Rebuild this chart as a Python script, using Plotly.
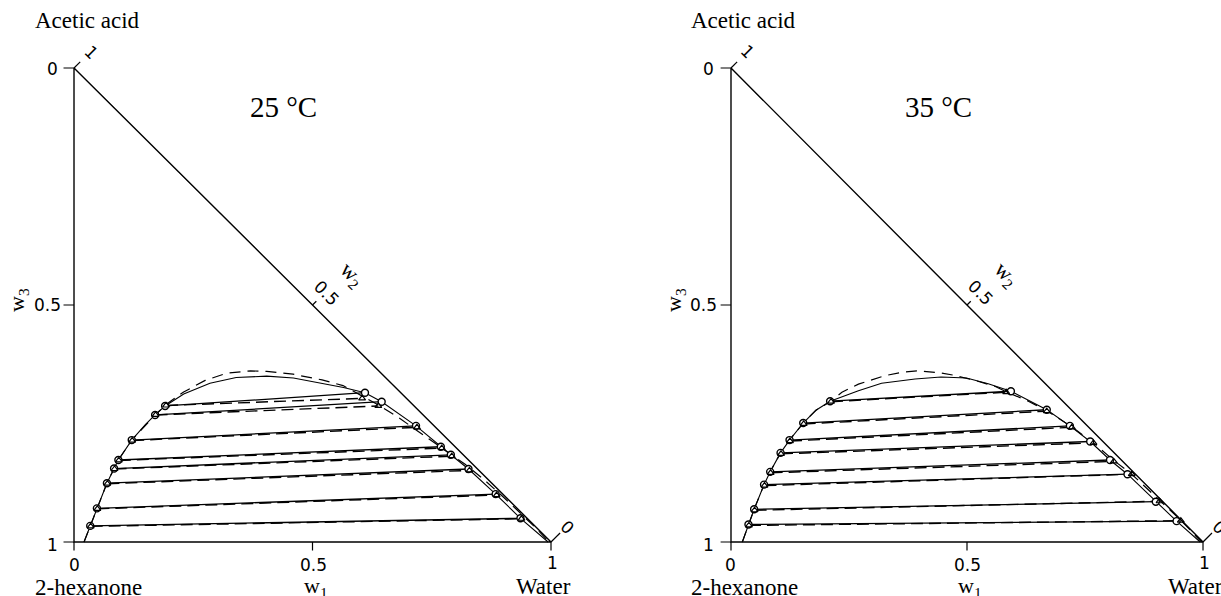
import plotly.graph_objects as go

# ================= 25 °C panel =================
# experimental tie lines (circles): hexanone-rich (left) and water-rich (right) ends
T25_RAF_W1 = [0.191, 0.170, 0.121, 0.093, 0.084, 0.069, 0.048, 0.034]
T25_RAF_W3 = [0.713, 0.732, 0.785, 0.827, 0.845, 0.876, 0.929, 0.966]
T25_EXT_W1 = [0.610, 0.645, 0.717, 0.769, 0.790, 0.827, 0.884, 0.936]
T25_EXT_W3 = [0.685, 0.704, 0.755, 0.799, 0.816, 0.846, 0.899, 0.950]
# calculated tie lines (triangles, dashed)
T25_CAL_RAF_W1 = [0.193, 0.171, 0.122, 0.094, 0.085, 0.070, 0.049, 0.035]
T25_CAL_RAF_W3 = [0.712, 0.732, 0.786, 0.828, 0.846, 0.877, 0.930, 0.967]
T25_CAL_EXT_W1 = [0.604, 0.638, 0.719, 0.771, 0.792, 0.829, 0.886, 0.938]
T25_CAL_EXT_W3 = [0.697, 0.713, 0.758, 0.802, 0.819, 0.849, 0.901, 0.951]
# binodal curves
T25_BIN_W1 = [0.021, 0.034, 0.048, 0.069, 0.084, 0.093, 0.121, 0.150, 0.170, 0.191,
              0.230, 0.285, 0.340, 0.404, 0.460, 0.516, 0.565, 0.610, 0.645, 0.717,
              0.769, 0.790, 0.827, 0.884, 0.936, 0.994]
T25_BIN_W3 = [1.000, 0.966, 0.929, 0.876, 0.845, 0.827, 0.785, 0.752, 0.732, 0.713,
              0.688, 0.665, 0.653, 0.650, 0.654, 0.664, 0.674, 0.685, 0.704, 0.755,
              0.799, 0.816, 0.846, 0.899, 0.950, 1.000]
T25_CAL_BIN_W1 = [0.021, 0.034, 0.048, 0.069, 0.084, 0.093, 0.121, 0.170, 0.193, 0.229,
                  0.275, 0.320, 0.370, 0.404, 0.459, 0.520, 0.564, 0.604, 0.640, 0.684,
                  0.720, 0.770, 0.820, 0.858, 0.900, 0.942, 0.970, 0.996]
T25_CAL_BIN_W3 = [1.000, 0.966, 0.929, 0.876, 0.845, 0.827, 0.785, 0.732, 0.710, 0.684,
                  0.659, 0.644, 0.639, 0.640, 0.646, 0.658, 0.670, 0.692, 0.712, 0.740,
                  0.766, 0.801, 0.836, 0.867, 0.905, 0.945, 0.972, 1.000]

# ================= 35 °C panel =================
T35_RAF_W1 = [0.210, 0.153, 0.124, 0.105, 0.083, 0.070, 0.049, 0.037]
T35_RAF_W3 = [0.703, 0.749, 0.785, 0.812, 0.852, 0.879, 0.931, 0.963]
T35_EXT_W1 = [0.593, 0.669, 0.718, 0.761, 0.803, 0.840, 0.900, 0.944]
T35_EXT_W3 = [0.682, 0.721, 0.755, 0.788, 0.827, 0.857, 0.915, 0.956]
T35_CAL_RAF_W1 = [0.212, 0.154, 0.125, 0.106, 0.084, 0.071, 0.050, 0.038]
T35_CAL_RAF_W3 = [0.704, 0.751, 0.787, 0.814, 0.854, 0.881, 0.933, 0.965]
T35_CAL_EXT_W1 = [0.583, 0.669, 0.722, 0.768, 0.811, 0.849, 0.908, 0.953]
T35_CAL_EXT_W3 = [0.684, 0.724, 0.758, 0.791, 0.830, 0.857, 0.914, 0.955]
T35_BIN_W1 = [0.024, 0.037, 0.049, 0.070, 0.083, 0.105, 0.124, 0.153, 0.180, 0.210,
              0.270, 0.319, 0.390, 0.445, 0.499, 0.545, 0.570, 0.593, 0.669, 0.718,
              0.761, 0.803, 0.840, 0.900, 0.944, 0.994]
T35_BIN_W3 = [1.000, 0.963, 0.931, 0.879, 0.852, 0.812, 0.785, 0.749, 0.722, 0.703,
              0.681, 0.665, 0.656, 0.652, 0.654, 0.666, 0.675, 0.682, 0.721, 0.755,
              0.788, 0.827, 0.857, 0.915, 0.956, 1.000]
T35_CAL_BIN_W1 = [0.024, 0.037, 0.049, 0.070, 0.083, 0.105, 0.124, 0.153, 0.180, 0.212,
                  0.235, 0.270, 0.326, 0.362, 0.395, 0.443, 0.471, 0.520, 0.560, 0.583,
                  0.630, 0.669, 0.722, 0.768, 0.811, 0.849, 0.880, 0.908, 0.953, 0.997]
T35_CAL_BIN_W3 = [1.000, 0.963, 0.931, 0.879, 0.852, 0.812, 0.785, 0.749, 0.722, 0.703,
                  0.684, 0.667, 0.649, 0.642, 0.639, 0.643, 0.648, 0.660, 0.672, 0.683,
                  0.703, 0.723, 0.757, 0.791, 0.828, 0.857, 0.885, 0.912, 0.954, 1.000]

# axis tick labels / component names
Y_TICKS = [0, 0.5, 1]
Y_TICK_TEXT = ["0", "0.5", "1"]
X_TICKS = [0, 0.5, 1]
X_TICK_TEXT = ["0", "0.5", "1"]
TITLES = ["25 °C", "35 °C"]
TOP_NAME = "Acetic acid"
LEFT_NAME = "2-hexanone"
RIGHT_NAME = "Water"

SERIF = "Liberation Serif"
SANS = "DejaVu Sans"
PAD = 0.03

fig = go.Figure()


def seg(x0, y0, x1, y1):
    xs, ys = [], []
    for a, b, c, d in zip(x0, y0, x1, y1):
        xs += [a, c, None]
        ys += [b, d, None]
    return xs, ys


def add(ax, **kw):
    xa, ya = ax
    kw.setdefault("hoverinfo", "skip")
    kw.setdefault("showlegend", False)
    fig.add_trace(go.Scatter(xaxis=xa, yaxis=ya, **kw))


annotations = []


def ann(ax, x, y, text, xs, ys, size, family, angle=0):
    xa, ya = ax
    annotations.append(dict(
        x=x, y=y, xref=xa, yref=ya, text=text, showarrow=False,
        xshift=xs, yshift=ys, textangle=angle,
        xanchor="center", yanchor="middle",
        font=dict(size=size, family=family, color="black")))


panels = [
    (("x", "y"), TITLES[0], T25_RAF_W1, T25_RAF_W3, T25_EXT_W1, T25_EXT_W3,
     T25_CAL_RAF_W1, T25_CAL_RAF_W3, T25_CAL_EXT_W1, T25_CAL_EXT_W3,
     T25_BIN_W1, T25_BIN_W3, T25_CAL_BIN_W1, T25_CAL_BIN_W3),
    (("x2", "y2"), TITLES[1], T35_RAF_W1, T35_RAF_W3, T35_EXT_W1, T35_EXT_W3,
     T35_CAL_RAF_W1, T35_CAL_RAF_W3, T35_CAL_EXT_W1, T35_CAL_EXT_W3,
     T35_BIN_W1, T35_BIN_W3, T35_CAL_BIN_W1, T35_CAL_BIN_W3),
]

for (ax, title, rx, ry, ex, ey, crx, cry, cex, cey, bx, by, cbx, cby) in panels:
    # triangle frame
    add(ax, x=[0, 0, 1, 0], y=[0, 1, 1, 0], mode="lines",
        line=dict(color="black", width=1.4))
    # ticks on w3 axis (left) and w1 axis (bottom)
    tx, ty = [], []
    for v in Y_TICKS:
        tx += [-0.022, 0, None]
        ty += [v, v, None]
    for v in X_TICKS:
        tx += [v, v, None]
        ty += [1, 1.018, None]
    # ticks on w2 scale (hypotenuse), pointing outwards
    for v, d in [(0, 0.013), (0.5, 0.008), (1, 0.019)]:
        tx += [v, v + d, None]
        ty += [v, v - d, None]
    add(ax, x=tx, y=ty, mode="lines", line=dict(color="black", width=1.2))

    # binodal curves
    add(ax, x=cbx, y=cby, mode="lines", line=dict(color="black", width=1.2, dash="11px,7px"))
    add(ax, x=bx, y=by, mode="lines", line=dict(color="black", width=1.1))
    # tie lines
    sx, sy = seg(crx, cry, cex, cey)
    add(ax, x=sx, y=sy, mode="lines", line=dict(color="black", width=1.4, dash="12px,6px"))
    sx, sy = seg(rx, ry, ex, ey)
    add(ax, x=sx, y=sy, mode="lines", line=dict(color="black", width=1.3))
    # experimental points
    add(ax, x=rx + ex, y=ry + ey, mode="markers",
        marker=dict(symbol="circle", size=7, color="white",
                    line=dict(color="black", width=1.4)))
    # calculated points
    add(ax, x=crx + cex, y=cry + cey, mode="markers",
        marker=dict(symbol="triangle-up-open", size=6, color="black",
                    line=dict(color="black", width=1.2)))

    # tick labels
    ann(ax, 0, 0, Y_TICK_TEXT[0], -22, -1, 17, SANS)
    ann(ax, 0, 0.5, Y_TICK_TEXT[1], -27, 0, 17, SANS)
    ann(ax, 0, 1, Y_TICK_TEXT[2], -22, -3, 17, SANS)
    ann(ax, 0, 1, X_TICK_TEXT[0], 0, -23, 17, SANS)
    ann(ax, 0.5, 1, X_TICK_TEXT[1], 1, -23, 17, SANS)
    ann(ax, 1, 1, X_TICK_TEXT[2], 1, -21, 17, SANS)
    # w2 scale labels (rotated)
    ann(ax, 0, 0, "1", 17, 16, 17, SANS, 45)
    ann(ax, 0.5, 0.5, "0.5", 14, 12, 17, SANS, 45)
    ann(ax, 1, 1, "0", 16, 15, 17, SANS, 45)
    ann(ax, 0.5, 0.5, "w<sub>2</sub>", 39, 30, 22, SERIF, 45)
    # axis titles
    ann(ax, 0, 0.5, "w<sub>3</sub>", -56, 5, 22, SERIF, -90)
    ann(ax, 0.5, 1, "w<sub>1</sub>", 3, -45, 22, SERIF)
    # component names
    ann(ax, 0, 0, TOP_NAME, 13, 47, 23, SERIF)
    ann(ax, 0, 1, LEFT_NAME, 14, -46, 23, SERIF)
    ann(ax, 1, 1, RIGHT_NAME, -8, -45, 23, SERIF)
    # temperature
    ann(ax, 0.44, 0, title, 0, -39, 29, SERIF)

xr = [-PAD, 1 + PAD]
yr = [1 + PAD, -PAD]
axis_common = dict(visible=False, showgrid=False, zeroline=False, fixedrange=True)

fig.update_layout(
    width=1221, height=596,
    margin=dict(l=0, r=0, t=0, b=0),
    paper_bgcolor="white", plot_bgcolor="white",
    xaxis=dict(domain=[0.04889, 0.46299], range=xr, anchor="y", **axis_common),
    yaxis=dict(domain=[0.06675, 0.90977], range=yr, anchor="x", **axis_common),
    xaxis2=dict(domain=[0.58709, 0.99686], range=xr, anchor="y2", **axis_common),
    yaxis2=dict(domain=[0.06675, 0.90977], range=yr, anchor="x2", **axis_common),
    annotations=annotations,
    showlegend=False,
)

fig.write_html("out.html")
